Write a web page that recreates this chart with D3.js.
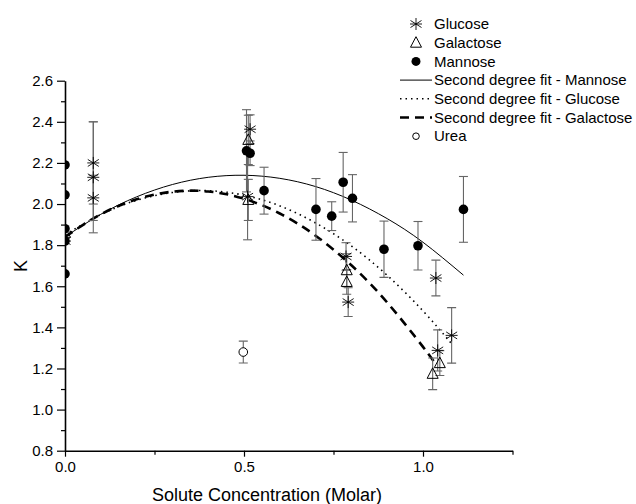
<!DOCTYPE html>
<html>
<head>
<meta charset="utf-8">
<script src="https://cdn.jsdelivr.net/npm/d3@7"></script>
<style>
  body { margin: 0; background: #fff; }
  svg { font-family: "Liberation Sans", Arial, sans-serif; }
  .axis path, .axis line { stroke: #000; }
  .axis text { font-size: 15px; fill: #000; }
</style>
</head>
<body>
<svg id="viz" width="636" height="504"></svg>
<script>
// ----------------------- DATA

// glucose (stars)
const glucoseX   = [0.0, 0.079, 0.079, 0.079, 0.517, 0.510, 0.785, 0.791, 1.036, 1.041, 1.080];
const glucoseK   = [1.82, 2.20, 2.13, 2.03, 2.364, 2.036, 1.745, 1.523, 1.64, 1.288, 1.361];
const glucoseErr = [0, 0.20, 0.27, 0.11, 0.07, 0.21, 0.067, 0.07, 0.087, 0.10, 0.135];

// galactose (open triangles)
const galactoseX   = [0.0, 0.512, 0.512, 0.787, 0.787, 1.047, 1.027];
const galactoseK   = [1.86, 2.312, 2.02, 1.678, 1.621, 1.226, 1.174];
const galactoseErr = [0, 0.12, 0.10, 0.08, 0.06, 0.06, 0.077];

// mannose (filled circles)
const mannoseX   = [0.0, 0.0, 0.0, 0.0, 0.0, 0.507, 0.517, 0.556, 0.701, 0.745, 0.777, 0.803, 0.891, 0.986, 1.113];
const mannoseK   = [2.19, 2.045, 1.88, 1.82, 1.66, 2.259, 2.247, 2.065, 1.974, 1.941, 2.106, 2.028, 1.78, 1.797, 1.974];
const mannoseErr = [0, 0, 0, 0, 0, 0.20, 0.06, 0.114, 0.15, 0.07, 0.145, 0.115, 0.137, 0.118, 0.16];

// urea (open circle)
const ureaX = [0.498];
const ureaK = [1.28];
const ureaErr = [0.053];

// second degree fits, sampled off the curves
const fitMannoseX = [0, 0.1, 0.2, 0.3, 0.4, 0.5, 0.6, 0.7, 0.8, 0.9, 1.0, 1.113];
const fitMannoseK = [1.840, 1.950, 2.035, 2.095, 2.130, 2.140, 2.125, 2.085, 2.019, 1.929, 1.814, 1.654];
const fitGlucoseX = [0, 0.1, 0.2, 0.3, 0.4, 0.5, 0.6, 0.7, 0.8, 0.9, 1.0, 1.08];
const fitGlucoseK = [1.850, 1.949, 2.018, 2.056, 2.065, 2.043, 1.991, 1.908, 1.796, 1.653, 1.480, 1.320];
const fitGalactoseX = [0, 0.1, 0.2, 0.3, 0.4, 0.5, 0.6, 0.7, 0.8, 0.9, 1.0, 1.034];
const fitGalactoseK = [1.840, 1.950, 2.023, 2.060, 2.061, 2.026, 1.954, 1.846, 1.702, 1.521, 1.305, 1.224];

// ticks
const xMajor = [0, 0.5, 1.0];
const xMinor = [0.25, 0.75, 1.25];
const yMajor = [0.8, 1.0, 1.2, 1.4, 1.6, 1.8, 2.0, 2.2, 2.4, 2.6];
const yMinor = [0.9, 1.1, 1.3, 1.5, 1.7, 1.9, 2.1, 2.3, 2.5];

const legendLabels = ['Glucose', 'Galactose', 'Mannose',
  'Second degree fit - Mannose', 'Second degree fit - Glucose',
  'Second degree fit - Galactose', 'Urea'];

// ----------------------- SETTINGS
const plotLeft = 65, plotRight = 512.5, plotTop = 80.7, plotBottom = 450.7;

const x = d3.scaleLinear().domain([0, 1.25]).range([plotLeft, plotRight]);
const y = d3.scaleLinear().domain([0.8, 2.6]).range([plotBottom, plotTop]);

const svg = d3.select('#viz');

svg.append('clipPath').attr('id', 'plot')
  .append('rect')
  .attr('x', plotLeft).attr('y', 0)
  .attr('width', plotRight - plotLeft + 40).attr('height', plotBottom);

const zip = (xs, ks, es) => xs.map((v, i) => ({x: v, k: ks[i], e: es ? es[i] : 0}));

const glucose = zip(glucoseX, glucoseK, glucoseErr);
const galactose = zip(galactoseX, galactoseK, galactoseErr);
const mannose = zip(mannoseX, mannoseK, mannoseErr);
const urea = zip(ureaX, ureaK, ureaErr);

// ----------------------- AXES

svg.append('g').attr('class', 'axis')
  .attr('transform', `translate(0, ${plotBottom})`)
  .call(d3.axisBottom(x).tickValues(xMinor).tickSize(4).tickFormat(''))
  .call(g => g.select('.domain').remove());

svg.append('g').attr('class', 'axis')
  .attr('transform', `translate(0, ${plotBottom})`)
  .call(d3.axisBottom(x).tickValues(xMajor).tickSizeInner(6).tickSizeOuter(0).tickPadding(5)
    .tickFormat(d3.format('.1f')))
  .call(g => g.select('.domain').attr('stroke-width', 1.6));

svg.append('g').attr('class', 'axis')
  .attr('transform', `translate(${plotLeft}, 0)`)
  .call(d3.axisLeft(y).tickValues(yMinor).tickSize(4).tickFormat(''))
  .call(g => g.select('.domain').remove());

svg.append('g').attr('class', 'axis')
  .attr('transform', `translate(${plotLeft}, 0)`)
  .call(d3.axisLeft(y).tickValues(yMajor).tickSizeInner(8).tickSizeOuter(0).tickPadding(4)
    .tickFormat(d3.format('.1f')))
  .call(g => g.select('.domain').attr('stroke-width', 1.6));

svg.selectAll('.axis line').attr('stroke-width', 1.2);

svg.append('text')
  .attr('x', 267).attr('y', 501)
  .attr('text-anchor', 'middle')
  .style('font-size', '18px')
  .text('Solute Concentration (Molar)');

svg.append('text')
  .attr('transform', 'translate(27, 266) rotate(-90)')
  .attr('text-anchor', 'middle')
  .style('font-size', '18px')
  .text('K');

// ----------------------- FIT LINES

const plot = svg.append('g').attr('clip-path', 'url(#plot)');

const line = d3.line().x(d => x(d.x)).y(d => y(d.k)).curve(d3.curveNatural);

const fitStyles = [
  {data: zip(fitMannoseX, fitMannoseK), dash: null, w: 1},
  {data: zip(fitGlucoseX, fitGlucoseK), dash: '1.5,4', w: 1.6},
  {data: zip(fitGalactoseX, fitGalactoseK), dash: '9,6', w: 2.6}
];

fitStyles.forEach(f => {
  plot.append('path')
    .datum(f.data)
    .attr('fill', 'none')
    .attr('stroke', '#000')
    .attr('stroke-width', f.w)
    .attr('stroke-dasharray', f.dash)
    .attr('d', line);
});

// ----------------------- ERROR BARS

const errs = glucose.concat(galactose, mannose, urea).filter(d => d.e > 0);
const eb = plot.append('g').attr('stroke', '#666').attr('stroke-width', 1.1);
errs.forEach(d => {
  const cx = x(d.x), y1 = y(d.k + d.e), y2 = y(d.k - d.e);
  eb.append('line').attr('x1', cx).attr('x2', cx).attr('y1', y1).attr('y2', y2);
  eb.append('line').attr('x1', cx - 4.5).attr('x2', cx + 4.5).attr('y1', y1).attr('y2', y1);
  eb.append('line').attr('x1', cx - 4.5).attr('x2', cx + 4.5).attr('y1', y2).attr('y2', y2);
});

// ----------------------- MARKERS

const starPath = 'M0,-6V6M-5.5,-3.5L5.5,3.5M-5.5,3.5L5.5,-3.5M-6,0H6';
const triPath = 'M0,-6L5.5,4.5H-5.5Z';

function drawStar(g, cx, cy) {
  g.append('path').attr('transform', `translate(${cx},${cy})`)
    .attr('d', starPath).attr('stroke', '#000').attr('stroke-width', 0.9).attr('fill', 'none');
}
function drawTri(g, cx, cy) {
  g.append('path').attr('transform', `translate(${cx},${cy})`)
    .attr('d', triPath).attr('stroke', '#000').attr('stroke-width', 1).attr('fill', 'none');
}

mannose.forEach(d => {
  plot.append('circle').attr('cx', x(d.x)).attr('cy', y(d.k)).attr('r', 4.8).attr('fill', '#000');
});
galactose.forEach(d => drawTri(plot, x(d.x), y(d.k)));
glucose.forEach(d => drawStar(plot, x(d.x), y(d.k)));
urea.forEach(d => {
  plot.append('circle').attr('cx', x(d.x)).attr('cy', y(d.k)).attr('r', 4.3)
    .attr('fill', '#fff').attr('stroke', '#000').attr('stroke-width', 1);
});

// ----------------------- LEGEND

const lg = svg.append('g').style('font-size', '15px');
const rowY = i => 24 + i * 18.7;

legendLabels.forEach((t, i) => {
  lg.append('text').attr('x', 434).attr('y', rowY(i)).attr('dy', '0.35em').text(t);
});
drawStar(lg, 416, rowY(0));
drawTri(lg, 416, rowY(1));
lg.append('circle').attr('cx', 416).attr('cy', rowY(2)).attr('r', 4.5).attr('fill', '#000');
[[null, 1], ['1.5,4', 1.6], ['9,6', 2.6]].forEach((s, j) => {
  lg.append('line')
    .attr('x1', 400).attr('x2', 432)
    .attr('y1', rowY(3 + j)).attr('y2', rowY(3 + j))
    .attr('stroke', '#000').attr('stroke-width', s[1])
    .attr('stroke-dasharray', s[0]);
});
lg.append('circle').attr('cx', 416).attr('cy', rowY(6)).attr('r', 3.3)
  .attr('fill', '#fff').attr('stroke', '#000');
</script>
</body>
</html>
